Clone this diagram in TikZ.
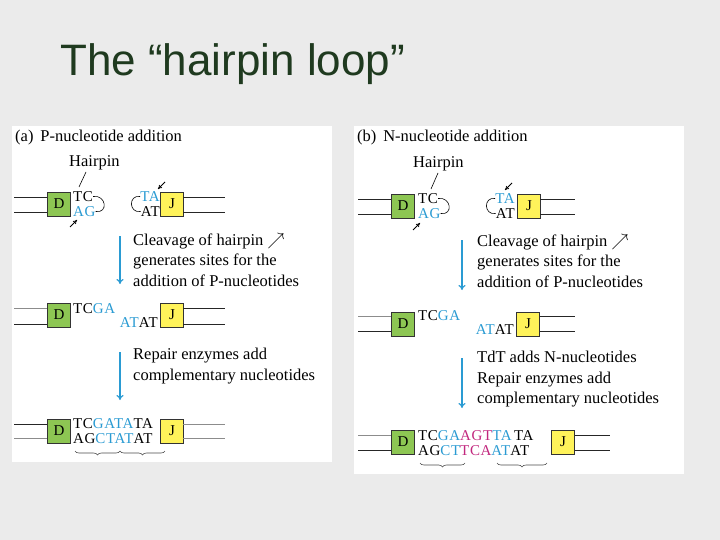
\documentclass[tikz,border=0pt]{standalone}
\usepackage{fontspec}
\setmainfont{Liberation Serif}
\newfontfamily\titlefont{Liberation Sans}
\usetikzlibrary{decorations.pathreplacing,arrows.meta}
\definecolor{bg}{HTML}{EBEBEB}
\definecolor{gbox}{HTML}{8DC653}
\definecolor{ybox}{HTML}{FFF35A}
\definecolor{nb}{HTML}{2A9BD3}
\definecolor{nm}{HTML}{C2277E}
\definecolor{ttl}{HTML}{1F3A1F}
\tikzset{
 dbox/.style={draw=black!80,fill=gbox,minimum width=23pt,minimum height=24pt,inner sep=0pt,font=\fontsize{15}{15}\selectfont},
 jbox/.style={draw=black!80,fill=ybox,minimum width=23pt,minimum height=24pt,inner sep=0pt,font=\fontsize{15}{15}\selectfont},
 nt/.style={inner sep=0pt,anchor=west,font=\fontsize{15}{12}\selectfont\addfontfeatures{LetterSpace=4}},
 lbl/.style={inner sep=0pt,anchor=west,align=left,font=\fontsize{16.5}{20.5}\selectfont},
 strand/.style={black!85,line width=0.8pt},
 pale/.style={black!45,line width=0.6pt},
 bluearrow/.style={nb,line width=1.2pt,-{To[length=5pt,width=7pt]}},
 small/.style={line width=0.8pt,-{To[length=4pt,width=4pt]}},
 brace/.style={decorate,decoration={brace,mirror,amplitude=4pt},black!70,line width=0.6pt}
}
\begin{document}
\begin{tikzpicture}[x=1pt,y=-1pt]
\fill[bg] (0,0) rectangle (720,540);
\useasboundingbox (0,0) rectangle (720,540);
\node[inner sep=0pt,anchor=west,font=\titlefont\fontsize{44}{44}\selectfont,text=ttl] (title) at (60,64) {The “hairpin loop”};
\fill[white] (12,126) rectangle (332,462);
\fill[white] (354,126) rectangle (684,474);
% ===== panel a
\node[lbl] (ta) at (15,138) {(a)\, P-nucleotide addition};
\node[lbl] (hpa) at (69,163) {Hairpin};
\coordinate (ha1) at (86,172); \coordinate (ha2) at (79,187);
\draw[line width=0.6pt] (ha1) -- (ha2);
% row1
\draw[strand] (14,197) -- (47,197) (14,212) -- (47,212);
\node[dbox] (d1) at (59,204) {D};
\node[nt] (a1t) at (73,196.5) {TC};
\node[nt,text=nb] (a1b) at (73,211.5) {AG};
\draw[line width=0.6pt] (a1t.east) .. controls +(13,-2) and +(13,2) .. (a1b.east);
\node[nt,text=nb,anchor=east] (a1t2) at (160,196.5) {TA};
\node[nt,anchor=east] (a1b2) at (160,211.5) {AT};
\draw[line width=0.6pt] (a1t2.west) .. controls +(-12,-2) and +(-12,2) .. (a1b2.west);
\node[jbox] (j1) at (172,204) {J};
\draw[strand] (183,197) -- (225,197) (183,212) -- (225,212);
\coordinate (sa1) at (70,227); \coordinate (sa2) at (77,220);
\draw[small] (sa1) -- (sa2);
\coordinate (sa3) at (165,182); \coordinate (sa4) at (158,189);
\draw[small] (sa3) -- (sa4);
% arrow 1
\coordinate (aa1) at (120,236); \coordinate (aa2) at (120,284);
\draw[bluearrow] (aa1) -- (aa2);
\node[lbl,anchor=north west] (ca) at (133,233) {Cleavage of hairpin $\nearrow$\\generates sites for the\\addition of P-nucleotides};
% row2
\draw[pale] (14,308) -- (47,308); \draw[strand] (14,324) -- (47,324);
\node[dbox] (d2) at (59,315) {D};
\node[nt] (a2t) at (73,309) {TC\textcolor{nb}{GA}};
\node[nt,anchor=east] (a2b) at (158,323) {\textcolor{nb}{AT}AT};
\node[jbox] (j2) at (172,315) {J};
\draw[strand] (183,308) -- (225,308) (183,324) -- (225,324);
% arrow 2
\coordinate (ab1) at (120,352); \coordinate (ab2) at (120,400);
\draw[bluearrow] (ab1) -- (ab2);
\node[lbl,anchor=north west] (ra) at (133,348) {Repair enzymes add\\complementary nucleotides};
% row3
\draw[strand] (14,424) -- (47,424); \draw[pale] (14,438) -- (47,438);
\node[dbox] (d3) at (59,431) {D};
\node[nt] (a3t) at (73,423.5) {TC\textcolor{nb}{GATA}TA};
\node[nt] (a3b) at (73,438.5) {AG\textcolor{nb}{CTAT}AT};
\node[jbox] (j3) at (172,431) {J};
\draw[pale] (183,424) -- (225,424) (183,438) -- (225,438);
\coordinate (b1) at (75,451); \coordinate (b2) at (120,451); \coordinate (b3) at (165,451);
\draw[brace] (b1) -- (b2); \draw[brace] (b2) -- (b3);
% ===== panel b
\node[lbl] (tb) at (357,138) {(b)\, N-nucleotide addition};
\node[lbl] (hpb) at (413,164) {Hairpin};
\coordinate (hb1) at (438,173); \coordinate (hb2) at (431,189);
\draw[line width=0.6pt] (hb1) -- (hb2);
\draw[strand] (358,199) -- (391,199) (358,214) -- (391,214);
\node[dbox] (d4) at (403,206) {D};
\node[nt] (b1t) at (418,198.5) {TC};
\node[nt,text=nb] (b1b) at (418,213.5) {AG};
\draw[line width=0.6pt] (b1t.east) .. controls +(13,-2) and +(13,2) .. (b1b.east);
\node[nt,text=nb,anchor=east] (b1t2) at (515,198.5) {TA};
\node[nt,anchor=east] (b1b2) at (515,213.5) {AT};
\draw[line width=0.6pt] (b1t2.west) .. controls +(-12,-2) and +(-12,2) .. (b1b2.west);
\node[jbox] (j4) at (529,206) {J};
\draw[strand] (540,199) -- (575,199) (540,214) -- (575,214);
\coordinate (sb1) at (413,230); \coordinate (sb2) at (420,223);
\draw[small] (sb1) -- (sb2);
\coordinate (sb3) at (512,183); \coordinate (sb4) at (505,190);
\draw[small] (sb3) -- (sb4);
\coordinate (ac1) at (462,240); \coordinate (ac2) at (462,290);
\draw[bluearrow] (ac1) -- (ac2);
\node[lbl,anchor=north west] (cb) at (477,234) {Cleavage of hairpin $\nearrow$\\generates sites for the\\addition of P-nucleotides};
\draw[pale] (358,316) -- (391,316); \draw[strand] (358,331) -- (391,331);
\node[dbox] (d5) at (403,324) {D};
\node[nt] (b2t) at (418,316) {TC\textcolor{nb}{GA}};
\node[nt,anchor=east] (b2b) at (514,330) {\textcolor{nb}{AT}AT};
\node[jbox] (j5) at (528,324) {J};
\draw[strand] (540,316) -- (575,316) (540,331) -- (575,331);
\coordinate (ad1) at (462,358); \coordinate (ad2) at (462,408);
\draw[bluearrow] (ad1) -- (ad2);
\node[lbl,anchor=north west] (rb) at (477,351) {TdT adds N-nucleotides\\Repair enzymes add\\complementary nucleotides};
\draw[pale] (358,435) -- (391,435); \draw[strand] (358,450) -- (391,450);
\node[dbox] (d6) at (403,442) {D};
\node[nt] (b3t) at (418,435.5) {TC\textcolor{nb}{GA}\textcolor{nm}{AGT}\textcolor{nb}{TA}\,TA};
\node[nt] (b3b) at (418,450.5) {AG\textcolor{nb}{CT}\textcolor{nm}{TCA}\textcolor{nb}{AT}AT};
\node[jbox] (j6) at (563,442) {J};
\draw[strand] (575,435) -- (610,435) (575,450) -- (610,450);
\coordinate (c1) at (420,463); \coordinate (c2) at (465,463);
\coordinate (c3) at (497,463); \coordinate (c4) at (547,463);
\draw[brace] (c1) -- (c2); \draw[brace] (c3) -- (c4);
\end{tikzpicture}
\end{document}
